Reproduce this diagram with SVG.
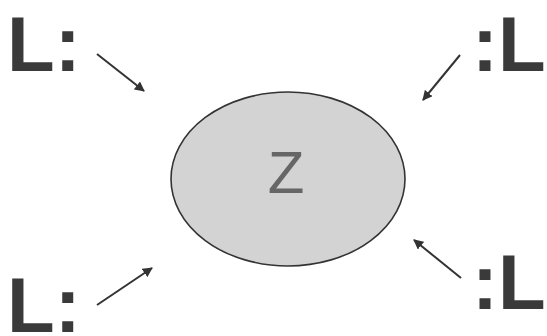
<svg xmlns="http://www.w3.org/2000/svg" width="547" height="336" viewBox="0 0 547 336">
<defs>
<marker id="ah" viewBox="0 0 10 10" refX="9" refY="5" markerWidth="5" markerHeight="5" orient="auto" markerUnits="strokeWidth">
<path d="M0,0 L10,5 L0,10 z" fill="#333"/>
</marker>
<style>
.lbl{font-family:"Liberation Sans",Arial,sans-serif;font-weight:bold;font-size:78px;fill:#3a3a3a}
.arr{stroke:#333;stroke-width:2;fill:none;marker-end:url(#ah)}
</style>
</defs>
<rect width="547" height="336" fill="#fff"/>
<g id="node-z">
<ellipse cx="288" cy="179" rx="117" ry="87" fill="#d3d3d3" stroke="#333" stroke-width="1.6"/>
<text x="286" y="193" text-anchor="middle" font-family="'Liberation Sans',Arial,sans-serif" font-size="60" fill="#666">Z</text>
</g>
<g id="node-tl"><text class="lbl" x="7" y="71">L:</text></g>
<g id="node-tr"><text class="lbl" x="472" y="71">:L</text></g>
<g id="node-bl"><text class="lbl" x="7" y="332">L:</text></g>
<g id="node-br"><text class="lbl" x="472" y="309">:L</text></g>
<g id="connectors">
<line class="arr" x1="97" y1="54" x2="144" y2="91"/>
<line class="arr" x1="460" y1="55" x2="423" y2="100"/>
<line class="arr" x1="97" y1="305" x2="152" y2="268"/>
<line class="arr" x1="461" y1="278" x2="414" y2="240"/>
</g>
</svg>
